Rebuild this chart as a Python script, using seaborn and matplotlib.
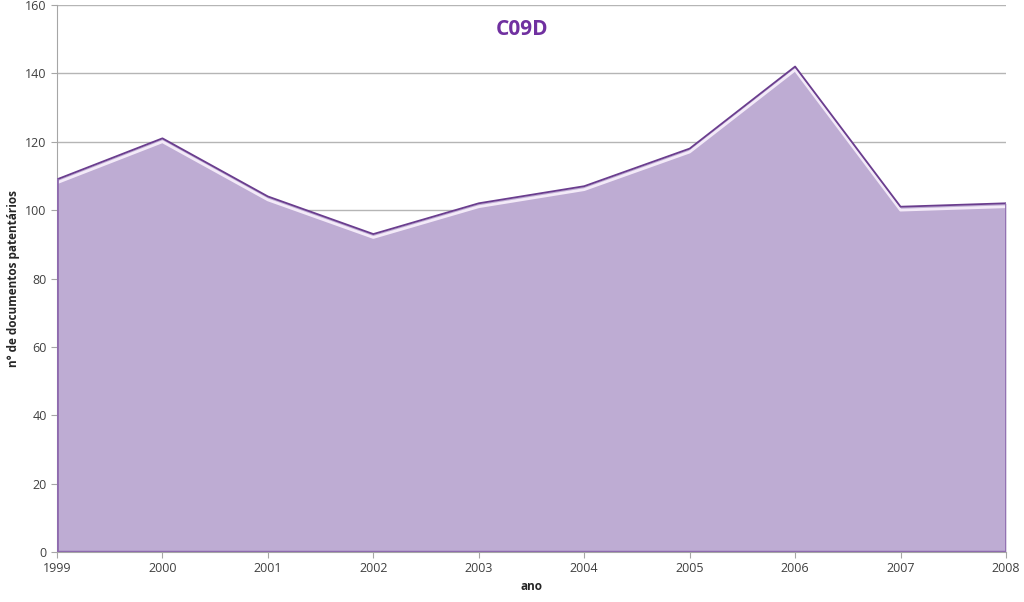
import matplotlib
matplotlib.use("Agg")
import matplotlib.pyplot as plt
import seaborn as sns
import pandas as pd

years = [1999, 2000, 2001, 2002, 2003, 2004, 2005, 2006, 2007, 2008]
docs = [109, 121, 104, 93, 102, 107, 118, 142, 101, 102]
title = "C09D"
xlabel = "ano"
ylabel = "n° de documentos patentários"

sns.set_style("white")
plt.rcParams['font.family'] = ['Open Sans', 'DejaVu Sans']

df = pd.DataFrame({"ano": years, "docs": docs})

fig = plt.figure(figsize=(10.24, 6.02), dpi=100)
ax = fig.add_axes([57/1024, 1 - 552/602, (1006 - 57)/1024, (552 - 5)/602])

ax.fill_between(df["ano"], df["docs"], 0, color="#BEACD3", zorder=2, linewidth=0)
ax.plot(df["ano"], [d - 1.0 for d in docs], color="#F3EAF8", linewidth=2.0, zorder=3)
sns.lineplot(data=df, x="ano", y="docs", ax=ax, color="#6A3D8E", linewidth=1.3, zorder=4)
ax.plot([years[0], years[0]], [0, docs[0]], color="#8E6BAE", linewidth=2, zorder=4)
ax.plot([years[-1], years[-1]], [0, docs[-1]], color="#8E6BAE", linewidth=2, zorder=4)
ax.plot([years[0], years[-1]], [0, 0], color="#8E6BAE", linewidth=2.5, zorder=4)

ax.set_xlim(years[0], years[-1])
ax.set_ylim(0, 160)
ax.set_yticks(range(0, 161, 20))
ax.set_xticks(years)
ax.yaxis.grid(True, color="#B5B5B5", linewidth=1)
ax.set_axisbelow(True)
for s in ["top", "right"]:
    ax.spines[s].set_visible(False)
ax.spines["left"].set_color("#A6A6A6")
ax.spines["bottom"].set_color("#A6A6A6")
ax.tick_params(axis="both", labelsize=9, colors="#404040", length=4, color="#A6A6A6",
               direction="out", left=True, bottom=True)
ax.tick_params(axis="x", pad=3)

ax.set_xlabel(xlabel, fontsize=8.5, fontweight="bold", labelpad=4)
ax.set_ylabel(ylabel, fontsize=8.5, fontweight="bold", labelpad=4)
ax.text(0.49, 0.955, title, transform=ax.transAxes, ha="center", va="center",
        fontsize=15, fontweight="bold", color="#7030A0")

fig.savefig("out.png", dpi=100)
